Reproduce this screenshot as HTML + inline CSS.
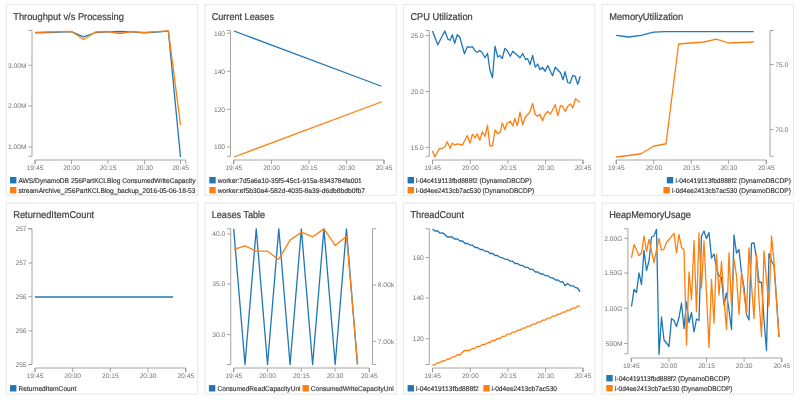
<!DOCTYPE html>
<html><head><meta charset="utf-8"><title>Dashboard</title>
<style>
html,body{margin:0;padding:0;background:#fff;}
body{width:800px;height:400px;overflow:hidden;font-family:"Liberation Sans",sans-serif;}
svg{display:block;font-family:"Liberation Sans",sans-serif;will-change:transform;text-rendering:geometricPrecision;}
</style></head><body>
<svg width="800" height="400" viewBox="0 0 800 400">
<rect width="800" height="400" fill="#ffffff"/>
<rect x="6.2" y="4.5" width="191.5" height="191" fill="#fff" stroke="#e8e8e8" stroke-width="1.1"/>
<rect x="204.85" y="4.5" width="191.5" height="191" fill="#fff" stroke="#e8e8e8" stroke-width="1.1"/>
<rect x="403.4" y="4.5" width="191.5" height="191" fill="#fff" stroke="#e8e8e8" stroke-width="1.1"/>
<rect x="602.05" y="4.5" width="191.5" height="191" fill="#fff" stroke="#e8e8e8" stroke-width="1.1"/>
<rect x="6.2" y="203" width="191.5" height="191" fill="#fff" stroke="#e8e8e8" stroke-width="1.1"/>
<rect x="204.85" y="203" width="191.5" height="191" fill="#fff" stroke="#e8e8e8" stroke-width="1.1"/>
<rect x="403.4" y="203" width="191.5" height="191" fill="#fff" stroke="#e8e8e8" stroke-width="1.1"/>
<rect x="602.05" y="203" width="191.5" height="191" fill="#fff" stroke="#e8e8e8" stroke-width="1.1"/>
<text x="13.2" y="19.6" font-size="9.9" fill="#3e3e3e" stroke="#3e3e3e" stroke-width="0.22" textLength="110.75" lengthAdjust="spacingAndGlyphs">Throughput v/s Processing</text>
<path d="M28.25,30.5H32V156.25H28.25" fill="none" stroke="#8f8f8f" stroke-width="0.8"/>
<path d="M28.25,65.25H32" stroke="#8f8f8f" stroke-width="0.8"/>
<text x="26.6" y="67.55" font-size="6.7" fill="#747474" text-anchor="end">3.00M</text>
<path d="M28.25,106H32" stroke="#8f8f8f" stroke-width="0.8"/>
<text x="26.6" y="108.3" font-size="6.7" fill="#747474" text-anchor="end">2.00M</text>
<path d="M28.25,147H32" stroke="#8f8f8f" stroke-width="0.8"/>
<text x="26.6" y="149.3" font-size="6.7" fill="#747474" text-anchor="end">1.00M</text>
<path d="M35,164.2V160H185.75V164.2" fill="none" stroke="#8f8f8f" stroke-width="0.8"/>
<path d="M35,160V164.2" stroke="#8f8f8f" stroke-width="0.8"/>
<text x="35" y="170.0" font-size="6.7" fill="#747474" text-anchor="middle">19:45</text>
<path d="M71.5,160V164.2" stroke="#8f8f8f" stroke-width="0.8"/>
<text x="71.5" y="170.0" font-size="6.7" fill="#747474" text-anchor="middle">20:00</text>
<path d="M108,160V164.2" stroke="#8f8f8f" stroke-width="0.8"/>
<text x="108" y="170.0" font-size="6.7" fill="#747474" text-anchor="middle">20:15</text>
<path d="M144.5,160V164.2" stroke="#8f8f8f" stroke-width="0.8"/>
<text x="144.5" y="170.0" font-size="6.7" fill="#747474" text-anchor="middle">20:30</text>
<path d="M180.5,160V164.2" stroke="#8f8f8f" stroke-width="0.8"/>
<text x="180.5" y="170.0" font-size="6.7" fill="#747474" text-anchor="middle">20:45</text>
<rect x="10" y="177.0" width="6.4" height="6.4" fill="#1f77b4"/>
<text x="18.4" y="182.75" font-size="6.8" fill="#333333" stroke="#333333" stroke-width="0.15" textLength="177.10" lengthAdjust="spacingAndGlyphs">AWS/DynamoDB 256PartKCLBlog ConsumedWriteCapacity</text>
<rect x="10" y="187.0" width="6.4" height="6.4" fill="#ff7f0e"/>
<text x="18.4" y="192.75" font-size="6.8" fill="#333333" stroke="#333333" stroke-width="0.15" textLength="177.10" lengthAdjust="spacingAndGlyphs">streamArchive_256PartKCLBlog_backup_2016-05-06-18-53</text>
<text x="211.7" y="19.6" font-size="9.9" fill="#3e3e3e" stroke="#3e3e3e" stroke-width="0.22" textLength="62.25" lengthAdjust="spacingAndGlyphs">Current Leases</text>
<path d="M226.75,30.5H230.5V156.25H226.75" fill="none" stroke="#8f8f8f" stroke-width="0.8"/>
<path d="M226.75,33.25H230.5" stroke="#8f8f8f" stroke-width="0.8"/>
<text x="225.1" y="35.55" font-size="6.7" fill="#747474" text-anchor="end">160</text>
<path d="M226.75,71.25H230.5" stroke="#8f8f8f" stroke-width="0.8"/>
<text x="225.1" y="73.55" font-size="6.7" fill="#747474" text-anchor="end">140</text>
<path d="M226.75,109.25H230.5" stroke="#8f8f8f" stroke-width="0.8"/>
<text x="225.1" y="111.55" font-size="6.7" fill="#747474" text-anchor="end">120</text>
<path d="M226.75,147H230.5" stroke="#8f8f8f" stroke-width="0.8"/>
<text x="225.1" y="149.3" font-size="6.7" fill="#747474" text-anchor="end">100</text>
<path d="M233.75,164.2V160H384V164.2" fill="none" stroke="#8f8f8f" stroke-width="0.8"/>
<path d="M233.75,160V164.2" stroke="#8f8f8f" stroke-width="0.8"/>
<text x="233.75" y="170.0" font-size="6.7" fill="#747474" text-anchor="middle">19:45</text>
<path d="M271.5,160V164.2" stroke="#8f8f8f" stroke-width="0.8"/>
<text x="271.5" y="170.0" font-size="6.7" fill="#747474" text-anchor="middle">20:00</text>
<path d="M309,160V164.2" stroke="#8f8f8f" stroke-width="0.8"/>
<text x="309" y="170.0" font-size="6.7" fill="#747474" text-anchor="middle">20:15</text>
<path d="M346.5,160V164.2" stroke="#8f8f8f" stroke-width="0.8"/>
<text x="346.5" y="170.0" font-size="6.7" fill="#747474" text-anchor="middle">20:30</text>
<path d="M384,160V164.2" stroke="#8f8f8f" stroke-width="0.8"/>
<text x="384" y="170.0" font-size="6.7" fill="#747474" text-anchor="middle">20:45</text>
<rect x="209.3" y="177.0" width="6.4" height="6.4" fill="#1f77b4"/>
<text x="217.7" y="182.75" font-size="6.8" fill="#333333" stroke="#333333" stroke-width="0.15" textLength="144.05" lengthAdjust="spacingAndGlyphs">worker:7d5a6a10-35f5-45c1-915a-8343784fa001</text>
<rect x="209.3" y="187.0" width="6.4" height="6.4" fill="#ff7f0e"/>
<text x="217.7" y="192.75" font-size="6.8" fill="#333333" stroke="#333333" stroke-width="0.15" textLength="147.30" lengthAdjust="spacingAndGlyphs">worker:ef5b30a4-582d-4035-8a39-d6db8bdb0fb7</text>
<text x="410.45" y="19.6" font-size="9.9" fill="#3e3e3e" stroke="#3e3e3e" stroke-width="0.22" textLength="62.25" lengthAdjust="spacingAndGlyphs">CPU Utilization</text>
<path d="M425.5,30.5H429.25V156.25H425.5" fill="none" stroke="#8f8f8f" stroke-width="0.8"/>
<path d="M425.5,35.4H429.25" stroke="#8f8f8f" stroke-width="0.8"/>
<text x="423.85" y="37.699999999999996" font-size="6.7" fill="#747474" text-anchor="end">25.0</text>
<path d="M425.5,91.5H429.25" stroke="#8f8f8f" stroke-width="0.8"/>
<text x="423.85" y="93.8" font-size="6.7" fill="#747474" text-anchor="end">20.0</text>
<path d="M425.5,147.4H429.25" stroke="#8f8f8f" stroke-width="0.8"/>
<text x="423.85" y="149.70000000000002" font-size="6.7" fill="#747474" text-anchor="end">15.0</text>
<path d="M432.5,164.2V160H583V164.2" fill="none" stroke="#8f8f8f" stroke-width="0.8"/>
<path d="M432.5,160V164.2" stroke="#8f8f8f" stroke-width="0.8"/>
<text x="432.5" y="170.0" font-size="6.7" fill="#747474" text-anchor="middle">19:45</text>
<path d="M470.25,160V164.2" stroke="#8f8f8f" stroke-width="0.8"/>
<text x="470.25" y="170.0" font-size="6.7" fill="#747474" text-anchor="middle">20:00</text>
<path d="M508,160V164.2" stroke="#8f8f8f" stroke-width="0.8"/>
<text x="508" y="170.0" font-size="6.7" fill="#747474" text-anchor="middle">20:15</text>
<path d="M545.5,160V164.2" stroke="#8f8f8f" stroke-width="0.8"/>
<text x="545.5" y="170.0" font-size="6.7" fill="#747474" text-anchor="middle">20:30</text>
<path d="M583,160V164.2" stroke="#8f8f8f" stroke-width="0.8"/>
<text x="583" y="170.0" font-size="6.7" fill="#747474" text-anchor="middle">20:45</text>
<rect x="407.6" y="177.0" width="6.4" height="6.4" fill="#1f77b4"/>
<text x="416.0" y="182.75" font-size="6.8" fill="#333333" stroke="#333333" stroke-width="0.15" textLength="115.75" lengthAdjust="spacingAndGlyphs">i-04c419113fbd888f2 (DynamoDBCDP)</text>
<rect x="407.6" y="187.0" width="6.4" height="6.4" fill="#ff7f0e"/>
<text x="416.0" y="192.75" font-size="6.8" fill="#333333" stroke="#333333" stroke-width="0.15" textLength="118.25" lengthAdjust="spacingAndGlyphs">i-0d4ee2413cb7ac530 (DynamoDBCDP)</text>
<text x="609.2" y="19.6" font-size="9.9" fill="#3e3e3e" stroke="#3e3e3e" stroke-width="0.22" textLength="74" lengthAdjust="spacingAndGlyphs">MemoryUtilization</text>
<path d="M773.75,30.5H770V156.25H773.75" fill="none" stroke="#8f8f8f" stroke-width="0.8"/>
<path d="M773.75,64.5H770" stroke="#8f8f8f" stroke-width="0.8"/>
<text x="775.3" y="66.8" font-size="6.7" fill="#747474" text-anchor="start">75.0</text>
<path d="M773.75,129.5H770" stroke="#8f8f8f" stroke-width="0.8"/>
<text x="775.3" y="131.8" font-size="6.7" fill="#747474" text-anchor="start">70.0</text>
<path d="M616.25,164.2V160H766.25V164.2" fill="none" stroke="#8f8f8f" stroke-width="0.8"/>
<path d="M616.25,160V164.2" stroke="#8f8f8f" stroke-width="0.8"/>
<text x="616.25" y="170.0" font-size="6.7" fill="#747474" text-anchor="middle">19:45</text>
<path d="M653.75,160V164.2" stroke="#8f8f8f" stroke-width="0.8"/>
<text x="653.75" y="170.0" font-size="6.7" fill="#747474" text-anchor="middle">20:00</text>
<path d="M691.25,160V164.2" stroke="#8f8f8f" stroke-width="0.8"/>
<text x="691.25" y="170.0" font-size="6.7" fill="#747474" text-anchor="middle">20:15</text>
<path d="M728.75,160V164.2" stroke="#8f8f8f" stroke-width="0.8"/>
<text x="728.75" y="170.0" font-size="6.7" fill="#747474" text-anchor="middle">20:30</text>
<path d="M766.25,160V164.2" stroke="#8f8f8f" stroke-width="0.8"/>
<text x="766.25" y="170.0" font-size="6.7" fill="#747474" text-anchor="middle">20:45</text>
<rect x="666.8" y="177.0" width="6.4" height="6.4" fill="#1f77b4"/>
<text x="675.5" y="182.75" font-size="6.8" fill="#333333" stroke="#333333" stroke-width="0.15" textLength="115.40" lengthAdjust="spacingAndGlyphs">i-04c419113fbd888f2 (DynamoDBCDP)</text>
<rect x="663.4" y="187.0" width="6.4" height="6.4" fill="#ff7f0e"/>
<text x="672.0" y="192.75" font-size="6.8" fill="#333333" stroke="#333333" stroke-width="0.15" textLength="118.90" lengthAdjust="spacingAndGlyphs">i-0d4ee2413cb7ac530 (DynamoDBCDP)</text>
<text x="13.2" y="217.6" font-size="9.9" fill="#3e3e3e" stroke="#3e3e3e" stroke-width="0.22" textLength="81" lengthAdjust="spacingAndGlyphs">ReturnedItemCount</text>
<path d="M28.25,228.75H32V364.5H28.25" fill="none" stroke="#8f8f8f" stroke-width="0.8"/>
<path d="M28.25,228.75H32" stroke="#8f8f8f" stroke-width="0.8"/>
<text x="26.6" y="231.05" font-size="6.7" fill="#747474" text-anchor="end">257</text>
<path d="M28.25,263H32" stroke="#8f8f8f" stroke-width="0.8"/>
<text x="26.6" y="265.3" font-size="6.7" fill="#747474" text-anchor="end">257</text>
<path d="M28.25,296.75H32" stroke="#8f8f8f" stroke-width="0.8"/>
<text x="26.6" y="299.05" font-size="6.7" fill="#747474" text-anchor="end">256</text>
<path d="M28.25,331H32" stroke="#8f8f8f" stroke-width="0.8"/>
<text x="26.6" y="333.3" font-size="6.7" fill="#747474" text-anchor="end">256</text>
<path d="M28.25,364.5H32" stroke="#8f8f8f" stroke-width="0.8"/>
<text x="26.6" y="366.8" font-size="6.7" fill="#747474" text-anchor="end">255</text>
<path d="M35,372.2V368H185.75V372.2" fill="none" stroke="#8f8f8f" stroke-width="0.8"/>
<path d="M35,368V372.2" stroke="#8f8f8f" stroke-width="0.8"/>
<text x="35" y="378.0" font-size="6.7" fill="#747474" text-anchor="middle">19:45</text>
<path d="M72.7,368V372.2" stroke="#8f8f8f" stroke-width="0.8"/>
<text x="72.7" y="378.0" font-size="6.7" fill="#747474" text-anchor="middle">20:00</text>
<path d="M110.4,368V372.2" stroke="#8f8f8f" stroke-width="0.8"/>
<text x="110.4" y="378.0" font-size="6.7" fill="#747474" text-anchor="middle">20:15</text>
<path d="M148,368V372.2" stroke="#8f8f8f" stroke-width="0.8"/>
<text x="148" y="378.0" font-size="6.7" fill="#747474" text-anchor="middle">20:30</text>
<path d="M185.75,368V372.2" stroke="#8f8f8f" stroke-width="0.8"/>
<text x="185.75" y="378.0" font-size="6.7" fill="#747474" text-anchor="middle">20:45</text>
<rect x="10" y="385.09999999999997" width="6.4" height="6.4" fill="#1f77b4"/>
<text x="18.6" y="390.84999999999997" font-size="6.8" fill="#333333" stroke="#333333" stroke-width="0.15" textLength="57.65" lengthAdjust="spacingAndGlyphs">ReturnedItemCount</text>
<text x="211.7" y="217.6" font-size="9.9" fill="#3e3e3e" stroke="#3e3e3e" stroke-width="0.22" textLength="53.5" lengthAdjust="spacingAndGlyphs">Leases Table</text>
<path d="M227.0,228.75H230.75V364.5H227.0" fill="none" stroke="#8f8f8f" stroke-width="0.8"/>
<path d="M227.0,233.9H230.75" stroke="#8f8f8f" stroke-width="0.8"/>
<text x="225.35" y="236.20000000000002" font-size="6.7" fill="#747474" text-anchor="end">40.0</text>
<path d="M227.0,284.1H230.75" stroke="#8f8f8f" stroke-width="0.8"/>
<text x="225.35" y="286.40000000000003" font-size="6.7" fill="#747474" text-anchor="end">35.0</text>
<path d="M227.0,334.5H230.75" stroke="#8f8f8f" stroke-width="0.8"/>
<text x="225.35" y="336.8" font-size="6.7" fill="#747474" text-anchor="end">30.0</text>
<path d="M376.25,228.75H372.5V364.5H376.25" fill="none" stroke="#8f8f8f" stroke-width="0.8"/>
<path d="M376.25,285H372.5" stroke="#8f8f8f" stroke-width="0.8"/>
<text x="377.8" y="287.3" font-size="6.7" fill="#747474" text-anchor="start">8.00k</text>
<path d="M376.25,341.25H372.5" stroke="#8f8f8f" stroke-width="0.8"/>
<text x="377.8" y="343.55" font-size="6.7" fill="#747474" text-anchor="start">7.00k</text>
<path d="M233.75,372.2V368H369.25V372.2" fill="none" stroke="#8f8f8f" stroke-width="0.8"/>
<path d="M233.75,368V372.2" stroke="#8f8f8f" stroke-width="0.8"/>
<text x="233.75" y="378.0" font-size="6.7" fill="#747474" text-anchor="middle">19:45</text>
<path d="M267.5,368V372.2" stroke="#8f8f8f" stroke-width="0.8"/>
<text x="267.5" y="378.0" font-size="6.7" fill="#747474" text-anchor="middle">20:00</text>
<path d="M301.25,368V372.2" stroke="#8f8f8f" stroke-width="0.8"/>
<text x="301.25" y="378.0" font-size="6.7" fill="#747474" text-anchor="middle">20:15</text>
<path d="M335,368V372.2" stroke="#8f8f8f" stroke-width="0.8"/>
<text x="335" y="378.0" font-size="6.7" fill="#747474" text-anchor="middle">20:30</text>
<path d="M369.25,368V372.2" stroke="#8f8f8f" stroke-width="0.8"/>
<text x="369.25" y="378.0" font-size="6.7" fill="#747474" text-anchor="middle">20:45</text>
<rect x="208.9" y="385.09999999999997" width="6.4" height="6.4" fill="#1f77b4"/>
<text x="217.5" y="390.84999999999997" font-size="6.8" fill="#333333" stroke="#333333" stroke-width="0.15" textLength="83.00" lengthAdjust="spacingAndGlyphs">ConsumedReadCapacityUni</text>
<rect x="302.5" y="385.09999999999997" width="6.4" height="6.4" fill="#ff7f0e"/>
<text x="310.75" y="390.84999999999997" font-size="6.8" fill="#333333" stroke="#333333" stroke-width="0.15" textLength="83.00" lengthAdjust="spacingAndGlyphs">ConsumedWriteCapacityUni</text>
<text x="410.45" y="217.6" font-size="9.9" fill="#3e3e3e" stroke="#3e3e3e" stroke-width="0.22" textLength="53.5" lengthAdjust="spacingAndGlyphs">ThreadCount</text>
<path d="M425.5,228.75H429.25V364.5H425.5" fill="none" stroke="#8f8f8f" stroke-width="0.8"/>
<path d="M425.5,257.5H429.25" stroke="#8f8f8f" stroke-width="0.8"/>
<text x="423.85" y="259.8" font-size="6.7" fill="#747474" text-anchor="end">160</text>
<path d="M425.5,298H429.25" stroke="#8f8f8f" stroke-width="0.8"/>
<text x="423.85" y="300.3" font-size="6.7" fill="#747474" text-anchor="end">140</text>
<path d="M425.5,338.75H429.25" stroke="#8f8f8f" stroke-width="0.8"/>
<text x="423.85" y="341.05" font-size="6.7" fill="#747474" text-anchor="end">120</text>
<path d="M432.5,372.2V368H583V372.2" fill="none" stroke="#8f8f8f" stroke-width="0.8"/>
<path d="M432.5,368V372.2" stroke="#8f8f8f" stroke-width="0.8"/>
<text x="432.5" y="378.0" font-size="6.7" fill="#747474" text-anchor="middle">19:45</text>
<path d="M470.25,368V372.2" stroke="#8f8f8f" stroke-width="0.8"/>
<text x="470.25" y="378.0" font-size="6.7" fill="#747474" text-anchor="middle">20:00</text>
<path d="M508,368V372.2" stroke="#8f8f8f" stroke-width="0.8"/>
<text x="508" y="378.0" font-size="6.7" fill="#747474" text-anchor="middle">20:15</text>
<path d="M545.5,368V372.2" stroke="#8f8f8f" stroke-width="0.8"/>
<text x="545.5" y="378.0" font-size="6.7" fill="#747474" text-anchor="middle">20:30</text>
<path d="M583,368V372.2" stroke="#8f8f8f" stroke-width="0.8"/>
<text x="583" y="378.0" font-size="6.7" fill="#747474" text-anchor="middle">20:45</text>
<rect x="407.6" y="385.09999999999997" width="6.4" height="6.4" fill="#1f77b4"/>
<text x="416.0" y="390.84999999999997" font-size="6.8" fill="#333333" stroke="#333333" stroke-width="0.15" textLength="62.75" lengthAdjust="spacingAndGlyphs">i-04c419113fbd888f2</text>
<rect x="483.3" y="385.09999999999997" width="6.4" height="6.4" fill="#ff7f0e"/>
<text x="491.5" y="390.84999999999997" font-size="6.8" fill="#333333" stroke="#333333" stroke-width="0.15" textLength="65.50" lengthAdjust="spacingAndGlyphs">i-0d4ee2413cb7ac530</text>
<text x="609.2" y="217.6" font-size="9.9" fill="#3e3e3e" stroke="#3e3e3e" stroke-width="0.22" textLength="81.75" lengthAdjust="spacingAndGlyphs">HeapMemoryUsage</text>
<path d="M624.15,228.75H627.9V353.75H624.15" fill="none" stroke="#8f8f8f" stroke-width="0.8"/>
<path d="M624.15,238.25H627.9" stroke="#8f8f8f" stroke-width="0.8"/>
<text x="622.5" y="240.55" font-size="6.7" fill="#747474" text-anchor="end">2.00G</text>
<path d="M624.15,273H627.9" stroke="#8f8f8f" stroke-width="0.8"/>
<text x="622.5" y="275.3" font-size="6.7" fill="#747474" text-anchor="end">1.50G</text>
<path d="M624.15,308.25H627.9" stroke="#8f8f8f" stroke-width="0.8"/>
<text x="622.5" y="310.55" font-size="6.7" fill="#747474" text-anchor="end">1.00G</text>
<path d="M624.15,343.5H627.9" stroke="#8f8f8f" stroke-width="0.8"/>
<text x="622.5" y="345.8" font-size="6.7" fill="#747474" text-anchor="end">500M</text>
<path d="M631.25,362.2V358H781.75V362.2" fill="none" stroke="#8f8f8f" stroke-width="0.8"/>
<path d="M631.25,358V362.2" stroke="#8f8f8f" stroke-width="0.8"/>
<text x="631.25" y="368.0" font-size="6.7" fill="#747474" text-anchor="middle">19:45</text>
<path d="M668.9,358V362.2" stroke="#8f8f8f" stroke-width="0.8"/>
<text x="668.9" y="368.0" font-size="6.7" fill="#747474" text-anchor="middle">20:00</text>
<path d="M706.5,358V362.2" stroke="#8f8f8f" stroke-width="0.8"/>
<text x="706.5" y="368.0" font-size="6.7" fill="#747474" text-anchor="middle">20:15</text>
<path d="M744.1,358V362.2" stroke="#8f8f8f" stroke-width="0.8"/>
<text x="744.1" y="368.0" font-size="6.7" fill="#747474" text-anchor="middle">20:30</text>
<path d="M781.75,358V362.2" stroke="#8f8f8f" stroke-width="0.8"/>
<text x="781.75" y="368.0" font-size="6.7" fill="#747474" text-anchor="middle">20:45</text>
<rect x="606.3" y="375.0" width="6.4" height="6.4" fill="#1f77b4"/>
<text x="615.0" y="380.75" font-size="6.8" fill="#333333" stroke="#333333" stroke-width="0.15" textLength="115.00" lengthAdjust="spacingAndGlyphs">i-04c419113fbd888f2 (DynamoDBCDP)</text>
<rect x="606.3" y="385.0" width="6.4" height="6.4" fill="#ff7f0e"/>
<text x="615.0" y="390.75" font-size="6.8" fill="#333333" stroke="#333333" stroke-width="0.15" textLength="117.50" lengthAdjust="spacingAndGlyphs">i-0d4ee2413cb7ac530 (DynamoDBCDP)</text>
<polyline points="35.00,32.80 47.12,32.50 59.25,32.20 71.38,31.60 83.50,36.80 95.62,32.50 107.75,31.80 119.88,31.50 132.00,31.80 144.12,32.80 156.25,32.00 168.38,31.20 180.50,157.00" fill="none" stroke="#1f77b4" stroke-width="1.3" stroke-linejoin="round" stroke-linecap="butt"/>
<polyline points="35.00,32.30 47.12,32.00 59.25,31.60 71.38,31.30 83.50,39.50 95.62,32.00 107.75,31.50 119.88,33.50 132.00,31.50 144.12,32.50 156.25,31.60 168.38,30.80 180.50,125.00" fill="none" stroke="#ff7f0e" stroke-width="1.3" stroke-linejoin="round" stroke-linecap="butt"/>
<polyline points="233.90,31.00 381.50,86.25" fill="none" stroke="#1f77b4" stroke-width="1.3" stroke-linejoin="round" stroke-linecap="butt"/>
<polyline points="233.90,157.00 381.70,101.75" fill="none" stroke="#ff7f0e" stroke-width="1.3" stroke-linejoin="round" stroke-linecap="butt"/>
<polyline points="432.50,30.95 437.75,44.75 444.80,30.95 447.95,39.20 450.20,40.25 452.30,34.70 454.70,43.25 457.25,34.70 459.80,37.25 464.45,53.75 467.30,46.70 469.70,47.30 472.25,46.55 476.00,51.80 477.50,52.25 479.75,50.45 482.00,52.25 485.00,57.80 487.55,53.30 489.80,69.50 492.50,77.75 495.05,46.25 497.75,57.05 500.00,55.55 502.25,58.55 504.80,48.50 507.25,50.70 510.25,56.25 512.80,51.30 520.00,57.75 522.70,53.55 525.70,59.70 527.50,58.50 530.05,64.50 532.60,55.50 535.30,67.05 537.70,64.05 539.95,69.75 542.50,67.50 545.20,71.25 547.75,65.55 552.55,75.75 555.25,67.20 560.50,72.75 563.05,79.80 565.00,71.55 567.70,82.50 569.95,83.25 572.80,75.45 575.05,76.20 577.75,84.30 580.30,76.20" fill="none" stroke="#1f77b4" stroke-width="1.3" stroke-linejoin="round" stroke-linecap="butt"/>
<polyline points="432.50,150.70 434.75,157.00 439.25,148.75 442.25,148.30 444.80,146.95 447.20,141.70 450.20,148.30 452.30,143.20 455.00,145.00 457.55,143.80 462.50,145.00 467.30,135.55 470.00,143.20 472.40,134.05 475.25,137.95 477.20,133.75 479.75,140.20 482.45,131.80 485.00,136.45 487.55,125.20 489.80,145.75 492.50,145.75 495.05,130.00 497.75,133.75 500.30,131.95 502.25,122.95 504.95,129.70 507.25,123.00 510.25,121.20 512.80,126.00 514.75,118.50 517.30,125.70 520.00,112.05 522.70,124.80 525.25,117.30 529.75,112.20 532.60,103.50 535.30,114.75 537.70,116.25 539.95,114.30 542.50,120.75 545.20,114.00 547.75,111.45 550.45,114.00 555.25,104.70 557.80,115.80 560.50,105.45 562.75,106.80 565.30,111.45 567.70,106.20 570.25,103.95 572.80,108.00 575.50,98.70 580.00,102.30" fill="none" stroke="#ff7f0e" stroke-width="1.3" stroke-linejoin="round" stroke-linecap="butt"/>
<polyline points="616.10,35.40 628.50,37.00 641.00,35.40 653.50,32.20 666.00,31.60 753.70,31.60" fill="none" stroke="#1f77b4" stroke-width="1.3" stroke-linejoin="round" stroke-linecap="butt"/>
<polyline points="616.10,157.00 628.70,155.50 641.00,153.75 653.60,146.25 666.00,143.75 678.60,44.00 691.00,43.00 704.00,42.00 716.20,39.20 728.60,43.00 741.00,42.50 753.70,42.00" fill="none" stroke="#ff7f0e" stroke-width="1.3" stroke-linejoin="round" stroke-linecap="butt"/>
<polyline points="35.00,297.00 173.00,297.00" fill="none" stroke="#1f77b4" stroke-width="1.5" stroke-linejoin="round" stroke-linecap="butt"/>
<polyline points="233.70,228.90 244.97,364.50 256.25,228.90 267.52,364.50 278.80,228.90 290.07,364.50 301.35,228.90 312.62,364.50 323.90,228.90 335.17,364.50 346.45,228.90 357.37,364.50" fill="none" stroke="#1f77b4" stroke-width="1.3" stroke-linejoin="round" stroke-linecap="butt"/>
<polyline points="234.00,249.40 245.00,245.90 256.20,251.10 267.20,251.10 278.50,259.50 290.10,240.10 301.40,232.20 312.80,236.80 323.90,228.90 335.20,245.40 346.50,236.30 357.70,364.50" fill="none" stroke="#ff7f0e" stroke-width="1.3" stroke-linejoin="round" stroke-linecap="butt"/>
<polyline points="432.50,229.00 435.00,231.00 437.50,230.80 440.00,233.20 443.00,233.00 447.50,237.00 452.00,236.80 454.50,239.00 457.50,239.00 460.00,241.00 462.50,240.80 465.00,243.50 467.50,243.30 470.00,245.20 472.50,245.20 475.00,247.50 477.50,247.50 480.00,249.50 482.50,249.50 485.00,251.30 487.50,251.30 490.00,253.50 492.50,253.30 495.00,255.50 497.50,255.50 500.00,257.30 502.50,257.80 505.00,259.30 507.50,259.30 510.00,261.20 512.50,261.20 515.00,263.50 517.50,263.50 520.00,265.30 522.50,265.30 525.00,267.30 527.50,267.30 530.00,269.30 532.50,269.30 535.50,272.00 538.00,272.00 540.50,274.00 543.00,274.00 545.50,275.70 548.00,275.70 550.50,277.70 553.00,278.00 555.50,280.00 557.50,279.80 560.50,282.00 562.80,281.70 565.00,285.80 567.50,283.50 570.50,285.80 573.00,285.80 575.50,287.70 577.50,288.00 580.00,291.50" fill="none" stroke="#1f77b4" stroke-width="1.3" stroke-linejoin="round" stroke-linecap="butt"/>
<polyline points="432.50,365.00 434.50,365.00 437.50,362.80 439.50,362.80 442.50,360.80 444.50,361.00 447.50,359.00 449.50,359.00 452.50,356.80 454.50,356.80 457.50,354.70 460.00,355.00 464.50,350.30 469.50,350.50 472.50,348.50 474.50,348.50 477.50,346.30 479.50,346.50 482.50,344.50 485.00,344.50 488.00,342.50 490.00,342.50 492.50,340.50 495.00,340.50 497.50,338.50 500.00,338.50 502.50,336.50 505.00,336.20 507.50,334.20 510.00,334.20 512.50,332.20 515.00,332.20 517.50,330.20 520.00,330.20 522.50,328.20 525.00,328.20 527.50,326.20 530.00,326.20 532.50,324.20 535.00,324.20 537.50,322.20 540.00,322.20 542.50,320.20 545.00,320.20 547.50,318.20 550.00,318.20 552.50,316.20 555.00,316.20 557.50,314.20 560.00,314.20 562.50,312.20 565.00,312.20 567.50,310.20 570.00,310.20 572.50,308.20 575.00,308.20 577.50,306.20 580.00,306.20" fill="none" stroke="#ff7f0e" stroke-width="1.3" stroke-linejoin="round" stroke-linecap="butt"/>
<polyline points="631.50,306.50 634.00,289.50 636.50,292.50 639.00,273.00 641.50,284.50 644.00,250.50 646.50,270.50 649.00,261.00 651.50,237.00 654.00,236.00 656.50,229.50 659.00,354.50 661.50,317.00 664.00,340.00 666.50,343.00 669.00,346.50 671.50,318.50 674.00,320.50 676.50,326.50 679.00,317.50 681.50,303.00 684.00,328.50 686.50,302.00 689.00,322.50 691.50,312.50 694.00,332.00 696.50,319.00 699.00,320.50 701.50,236.00 704.00,231.00 706.50,238.50 709.00,232.50 711.50,258.00 714.00,254.00 716.50,268.00 719.00,276.00 721.50,277.50 724.00,305.00 726.50,293.00 729.00,310.00 731.50,329.50 734.00,235.00 736.50,253.00 739.00,249.50 741.50,273.00 744.00,287.00 746.50,314.50 749.00,320.00 751.50,243.50 754.00,242.80 756.50,258.00 759.00,282.00 761.50,282.50 764.00,320.00 766.50,350.50 769.00,253.50 771.50,261.00 774.00,265.50 776.50,300.00 779.00,337.00" fill="none" stroke="#1f77b4" stroke-width="1.3" stroke-linejoin="round" stroke-linecap="butt"/>
<polyline points="631.50,258.00 634.00,244.50 636.50,250.00 639.00,255.50 641.50,253.00 644.00,236.00 646.50,251.50 649.00,239.50 651.50,251.00 654.00,262.50 656.50,250.00 659.00,238.50 661.50,250.20 664.00,249.00 666.50,242.50 669.00,239.50 671.50,236.40 674.00,233.30 676.50,253.00 679.00,234.50 681.50,247.50 684.00,249.70 686.50,345.00 689.00,272.00 691.50,300.00 694.00,240.50 696.50,311.50 699.00,233.00 701.50,288.00 704.00,241.00 706.50,294.00 709.00,347.50 711.50,279.50 714.00,323.00 716.50,254.50 719.00,295.00 721.50,261.50 724.00,300.00 726.50,329.50 729.00,253.00 731.50,306.00 734.00,259.00 736.50,276.00 739.00,314.50 741.50,272.50 744.00,293.00 746.50,313.00 749.00,247.80 751.50,285.00 754.00,318.50 756.50,254.00 759.00,300.00 761.50,336.50 764.00,251.00 766.50,280.00 769.00,306.00 771.50,236.00 774.00,262.00 776.50,300.00 779.00,337.00" fill="none" stroke="#ff7f0e" stroke-width="1.3" stroke-linejoin="round" stroke-linecap="butt"/>
</svg>
</body></html>
